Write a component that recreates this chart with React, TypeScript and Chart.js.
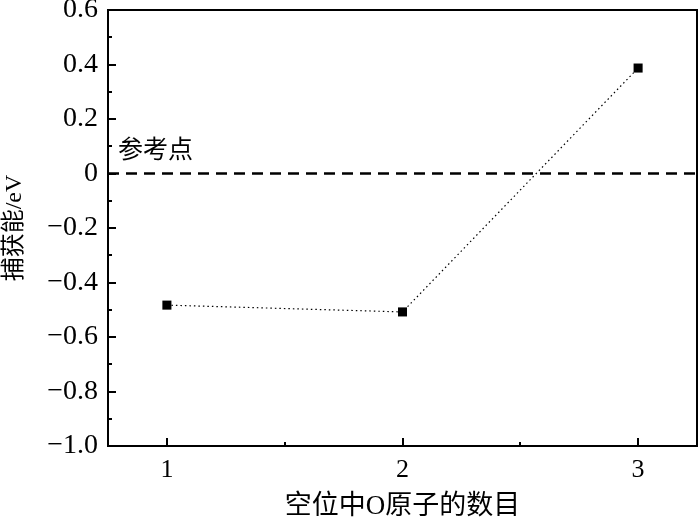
import React, { useEffect, useRef } from "react";
import { Chart, registerables } from "chart.js";

Chart.register(...registerables);

const categories = [1, 2, 3];
const trapEnergy = [-0.483, -0.508, 0.387];
const yTicks = [0.6, 0.4, 0.2, 0, -0.2, -0.4, -0.6, -0.8, -1.0];
const yMinorTicks = [0.5, 0.3, 0.1, -0.1, -0.3, -0.5, -0.7, -0.9];
const xTicks = [1, 2, 3];
const xMinorTicks = [1.5, 2.5];
const xTitle = "空位中O原子的数目";
const yTitle = "捕获能/eV";
const refLabel = "参考点";
const refValue = 0;

const SERIF = "'Liberation Serif', 'Times New Roman', serif";
const CJK = "'Liberation Serif', 'Noto Sans CJK SC', serif";

const fmt = (v: number) => (v === 0 ? "0" : (v < 0 ? "\u2212" : "") + Math.abs(v).toFixed(1));

const RIGHT_GAP = 3;

const rightEdgePlugin = {
  id: "rightEdge",
  afterLayout(chart: any) {
    const right = chart.width - RIGHT_GAP;
    const xs = chart.scales.x;
    xs.right = right;
    xs.width = right - xs.left;
    xs.configure();
    chart.chartArea.right = right;
    chart.chartArea.width = right - chart.chartArea.left;
  },
};

const framePlugin = {
  id: "frame",
  afterDatasetsDraw(chart: any) {
    const { ctx, chartArea: a, scales } = chart;
    const xs = scales.x, ys = scales.y;
    ctx.save();
    const y0 = ys.getPixelForValue(refValue);
    ctx.strokeStyle = "#000";
    ctx.lineWidth = 2.5;
    ctx.setLineDash([11, 7]);
    ctx.beginPath();
    ctx.moveTo(a.left, y0);
    ctx.lineTo(a.right, y0);
    ctx.stroke();
    ctx.setLineDash([]);
    ctx.lineWidth = 2;
    ctx.strokeRect(a.left, a.top, a.right - a.left, a.bottom - a.top);
    ctx.beginPath();
    yTicks.forEach((v) => {
      const p = Math.round(ys.getPixelForValue(v));
      ctx.moveTo(a.left, p);
      ctx.lineTo(a.left + 8, p);
    });
    yMinorTicks.forEach((v) => {
      const p = Math.round(ys.getPixelForValue(v));
      ctx.moveTo(a.left, p);
      ctx.lineTo(a.left + 4, p);
    });
    xTicks.forEach((v) => {
      const p = Math.round(xs.getPixelForValue(v));
      ctx.moveTo(p, a.bottom);
      ctx.lineTo(p, a.bottom - 8);
    });
    xMinorTicks.forEach((v) => {
      const p = Math.round(xs.getPixelForValue(v));
      ctx.moveTo(p, a.bottom);
      ctx.lineTo(p, a.bottom - 4);
    });
    ctx.stroke();
    ctx.fillStyle = "#000";
    ctx.font = "25px " + CJK;
    ctx.textAlign = "left";
    ctx.textBaseline = "middle";
    ctx.fillText(refLabel, a.left + 10, y0 - 22);
    ctx.restore();
  },
};

export default function App() {
  const ref = useRef<HTMLCanvasElement>(null);
  useEffect(() => {
    document.body.style.margin = "0";
    const chart = new Chart(ref.current!, {
      type: "line",
      data: {
        datasets: [
          {
            data: categories.map((c, i) => ({ x: c, y: trapEnergy[i] })),
            borderColor: "#000",
            borderWidth: 1.2,
            borderDash: [1.5, 3],
            pointStyle: "rect",
            pointRadius: 6.4,
            pointBackgroundColor: "#000",
            pointBorderColor: "#000",
            pointBorderWidth: 0,
            tension: 0,
          },
        ],
      },
      plugins: [rightEdgePlugin, framePlugin],
      options: {
        responsive: false,
        animation: false,
        events: [],
        layout: { padding: { top: 10, right: 3, left: 0, bottom: 0 } },
        plugins: { legend: { display: false }, tooltip: { enabled: false } },
        scales: {
          x: {
            type: "linear",
            min: 0.75,
            max: 3.25,
            grid: { display: false, drawTicks: false },
            border: { display: false },
            afterBuildTicks: (s: any) => {
              s.ticks = xTicks.map((v) => ({ value: v }));
            },
            afterFit: (s: any) => {
              s.height = 77;
              s.paddingLeft = 0;
              s.paddingRight = 0;
            },
            ticks: {
              color: "#000",
              font: { family: SERIF, size: 26 },
              padding: 9,
              maxRotation: 0,
              callback: (v: any) => String(v),
            },
            title: {
              display: true,
              text: xTitle,
              color: "#000",
              font: { family: CJK, size: 27 },
              padding: { top: 12, bottom: 0 },
            },
          },
          y: {
            type: "linear",
            min: -1.0,
            max: 0.6,
            grid: { display: false, drawTicks: false },
            border: { display: false },
            afterBuildTicks: (s: any) => {
              s.ticks = yTicks.map((v) => ({ value: v }));
            },
            afterFit: (s: any) => {
              s.width = 108;
              s.paddingTop = 0;
              s.paddingBottom = 0;
            },
            ticks: {
              color: "#000",
              font: { family: SERIF, size: 28 },
              padding: 10,
              callback: (v: any) => fmt(Number(v)),
            },
            title: {
              display: true,
              text: yTitle,
              color: "#000",
              font: { family: CJK, size: 24 },
              padding: { top: 0, bottom: 4 },
            },
          },
        },
      },
    } as any);
    return () => chart.destroy();
  }, []);
  return (
    <div style={{ width: 700, height: 523 }}>
      <canvas ref={ref} width={700} height={523} style={{ display: "block" }} />
    </div>
  );
}
